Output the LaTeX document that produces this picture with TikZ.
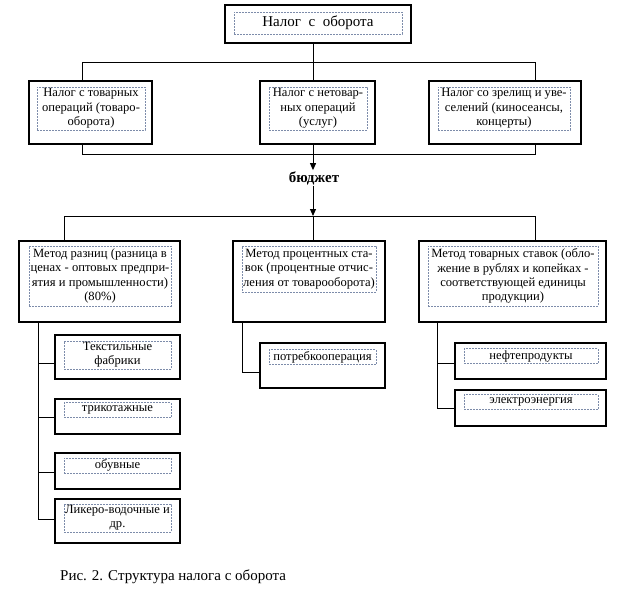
\documentclass[tikz,border=0pt]{standalone}
\usepackage{fontspec}
\setmainfont{Liberation Serif}
\usetikzlibrary{arrows.meta}
\definecolor{dashblue}{RGB}{125,140,170}

\begin{document}
\begin{tikzpicture}[x=1pt,y=-1pt,
    outer/.style={shape=rectangle,draw=black,line width=1.1pt,inner sep=0pt},
    inner/.style={shape=rectangle,draw=dashblue,dash pattern=on 2pt off 1pt,line width=0.6pt,
        inner sep=0.5pt,align=center,font=\fontsize{12.6}{14.3}\selectfont},
    link/.style={line width=1pt,draw=black}]
    \useasboundingbox (0,0) rectangle (627,589);

    % top
    \node[outer,minimum width=186,minimum height=38] (N0) at (318,24) {};
    \node[inner,minimum width=168,minimum height=22,font=\fontsize{15}{17}\selectfont] (N0t) at (318,23) {Налог \ с \ оборота};

    % second row
    \node[outer,minimum width=123,minimum height=63] (N1) at (90.5,112.5) {};
    \node[outer,minimum width=115,minimum height=63] (N2) at (317.5,112.5) {};
    \node[outer,minimum width=152,minimum height=63] (N3) at (505,112.5) {};
    \node[inner,minimum width=108,minimum height=43] (N1t) at (91,108.5) {Налог с товарных\\операций (товаро-\\оборота)};
    \node[inner,minimum width=98,minimum height=43] (N2t) at (318,108.5) {Налог с нетовар-\\ных операций\\(услуг)};
    \node[inner,minimum width=132,minimum height=43] (N3t) at (504,108.5) {Налог со зрелищ и уве-\\селений (киносеансы,\\концерты)};

    \node[font=\fontsize{15}{17}\selectfont\bfseries,inner sep=1pt] (B) at (314,178) {бюджет};

    % methods
    \node[outer,minimum width=161,minimum height=81] (M1) at (99.5,281.5) {};
    \node[outer,minimum width=152,minimum height=81] (M2) at (309,281.5) {};
    \node[outer,minimum width=187,minimum height=81] (M3) at (512.5,281.5) {};
    \node[inner,minimum width=142,minimum height=60] (M1t) at (100,276) {Метод разниц (разница в\\ценах - оптовых предпри-\\ятия и промышленности)\\(80\%)};
    \node[inner,minimum width=134,minimum height=46] (M2t) at (309,269) {Метод процентных ста-\\вок (процентные отчис-\\ления от товарооборота)};
    \node[inner,minimum width=170,minimum height=60] (M3t) at (513,276) {Метод товарных ставок (обло-\\жение в рублях и копейках -\\соответствующей единицы\\продукции)};

    % branches
    \node[outer,minimum width=125,minimum height=44] (L1) at (117.5,357) {};
    \node[outer,minimum width=125,minimum height=35] (L2) at (117.5,416.5) {};
    \node[outer,minimum width=125,minimum height=36] (L3) at (117.5,471) {};
    \node[outer,minimum width=125,minimum height=44] (L4) at (117.5,521) {};
    \node[inner,minimum width=107,minimum height=28] (L1t) at (117.5,355) {Текстильные\\фабрики};
    \node[inner,minimum width=107,minimum height=15] (L2t) at (117.5,410) {трикотажные};
    \node[inner,minimum width=107,minimum height=15] (L3t) at (117.5,465.5) {обувные};
    \node[inner,minimum width=107,minimum height=28] (L4t) at (117.5,518) {Ликеро-водочные и\\др.};

    \node[outer,minimum width=125,minimum height=45] (P1) at (322.5,365.5) {};
    \node[inner,minimum width=107,minimum height=15] (P1t) at (322.5,357) {потребкооперация};

    \node[outer,minimum width=151,minimum height=36] (E1) at (530.5,361) {};
    \node[outer,minimum width=151,minimum height=36] (E2) at (530.5,408) {};
    \node[inner,minimum width=134,minimum height=15] (E1t) at (531,356) {нефтепродукты};
    \node[inner,minimum width=134,minimum height=15] (E2t) at (531,402) {электроэнергия};

    \node[anchor=west,font=\fontsize{15}{17}\selectfont,inner sep=0pt] (cap) at (60,577) {Рис. 2. Структура налога с оборота};

    % connectors
    \coordinate (b1) at (313,62);
    \coordinate (b1l) at (82,62);
    \coordinate (b1r) at (535,62);
    \coordinate (b2l) at (82,154);
    \coordinate (b2r) at (535,154);
    \coordinate (b3) at (313,216);
    \coordinate (b3l) at (64,216);
    \coordinate (b3r) at (535,216);

    \draw[link] (b1 |- N0.south) -- (b1);
    \draw[link] (b1l |- N1.north) -- (b1l) -- (b1r) -- (b1r |- N3.north);
    \draw[link] (b1) -- (b1 |- N2.north);
    \draw[link] (b2l |- N1.south) -- (b2l) -- (b2r) -- (b2r |- N3.south);
    \draw[link,-{Triangle[length=7pt,width=6pt]}] (b1 |- N2.south) -- (b1 |- B.north);
    \draw[link,-{Triangle[length=7pt,width=6pt]}] (b1 |- B.south) -- (b3);
    \draw[link] (b3l |- M1.north) -- (b3l) -- (b3r) -- (b3r |- M3.north);
    \draw[link] (b3) -- (b3 |- M2.north);

    \coordinate (t1) at (38,363);
    \coordinate (t2) at (38,417);
    \coordinate (t3) at (38,472);
    \coordinate (t4) at (38,519);
    \draw[link] (t1 |- M1.south) -- (t4) -- (t4 -| L4.west);
    \draw[link] (t1) -- (t1 -| L1.west);
    \draw[link] (t2) -- (t2 -| L2.west);
    \draw[link] (t3) -- (t3 -| L3.west);

    \coordinate (s1) at (242,372);
    \draw[link] (s1 |- M2.south) -- (s1) -- (s1 -| P1.west);

    \coordinate (r1) at (437,363);
    \coordinate (r2) at (437,408);
    \draw[link] (r1 |- M3.south) -- (r2) -- (r2 -| E2.west);
    \draw[link] (r1) -- (r1 -| E1.west);

\end{tikzpicture}
\end{document}
